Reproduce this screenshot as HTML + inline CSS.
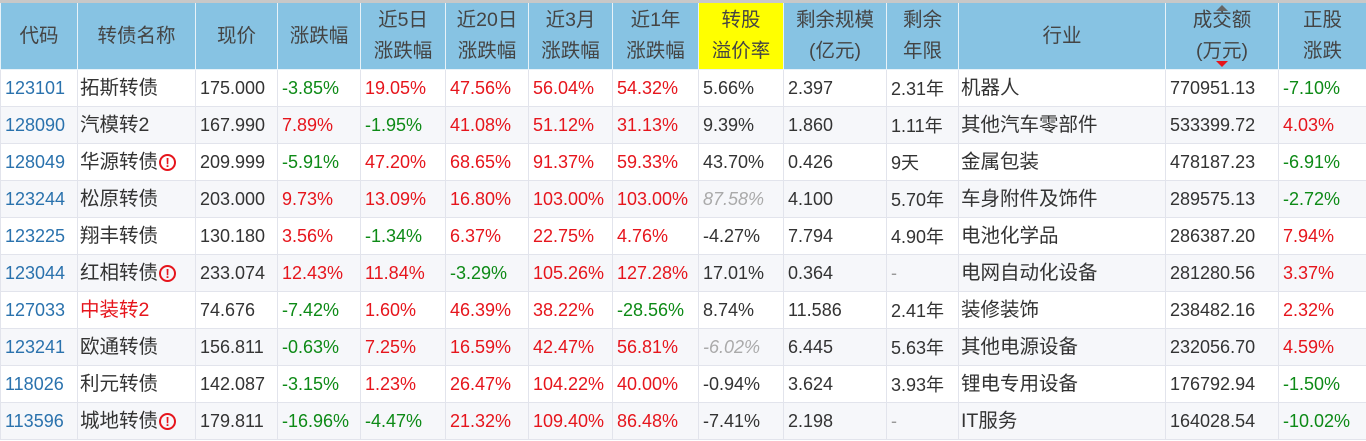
<!DOCTYPE html>
<html><head><meta charset="utf-8"><style>
html,body{margin:0;padding:0;background:#fff;width:1366px;height:441px;overflow:hidden}
body{border-top:3px solid #c8c8c8;box-sizing:border-box}
table{border-collapse:collapse;table-layout:fixed;width:1366px;font-family:"Liberation Sans","Noto Sans CJK SC",sans-serif;font-size:18px;color:#333}
th{background:#87c3e3;height:66px;padding:0;font-weight:normal;color:#444;border:1px solid #e8f2f8;border-top:none;text-align:center;line-height:31px;position:relative;font-size:19.5px}
td{height:36px;padding:0 0 0 4px;border:1px solid #e2e4ec;white-space:nowrap;overflow:hidden;vertical-align:middle}
td.n{padding-left:2px;font-size:19.5px}
td.n span.t{position:relative;top:-3px}
tr:nth-child(odd) td{background:#f6f7fa}
.c{color:#2a72ad}.r{color:#e6151c}.g{color:#0d8a16}.i{color:#aaa;font-style:italic}
.y{background:#ffff00!important}
.w{display:inline-block;width:17px;height:17px;border:2px solid #e6151c;border-radius:50%;box-sizing:border-box;color:#e6151c;font-size:13px;line-height:13px;text-align:center;font-weight:bold;vertical-align:1px;margin-left:1px}
.up{position:absolute;left:50%;top:2px;margin-left:-6px;border:6px solid transparent;border-bottom:6px solid #666;border-top:none}
.dn{position:absolute;left:50%;bottom:2px;margin-left:-6px;border:6px solid transparent;border-top:6px solid #e6151c;border-bottom:none}
</style></head><body>
<table>
<colgroup><col style="width:77px"><col style="width:118px"><col style="width:82px"><col style="width:83px"><col style="width:85px"><col style="width:83px"><col style="width:84px"><col style="width:86px"><col style="width:85px"><col style="width:103px"><col style="width:72px"><col style="width:207px"><col style="width:113px"><col style="width:88px"></colgroup>
<tr><th>代码</th><th>转债名称</th><th>现价</th><th>涨跌幅</th><th>近5日<br>涨跌幅</th><th>近20日<br>涨跌幅</th><th>近3月<br>涨跌幅</th><th>近1年<br>涨跌幅</th><th class="y">转股<br>溢价率</th><th>剩余规模<br>(亿元)</th><th>剩余<br>年限</th><th>行业</th><th><span class="up"></span>成交额<br>(万元)<span class="dn"></span></th><th>正股<br>涨跌</th></tr>
<tr><td class="c">123101</td><td class="n"><span class="t">拓斯转债</span></td><td>175.000</td><td class="g">-3.85%</td><td class="r">19.05%</td><td class="r">47.56%</td><td class="r">56.04%</td><td class="r">54.32%</td><td>5.66%</td><td>2.397</td><td>2.31年</td><td class="n"><span class="t">机器人</span></td><td>770951.13</td><td class="g">-7.10%</td></tr>
<tr><td class="c">128090</td><td class="n"><span class="t">汽模转2</span></td><td>167.990</td><td class="r">7.89%</td><td class="g">-1.95%</td><td class="r">41.08%</td><td class="r">51.12%</td><td class="r">31.13%</td><td>9.39%</td><td>1.860</td><td>1.11年</td><td class="n"><span class="t">其他汽车零部件</span></td><td>533399.72</td><td class="r">4.03%</td></tr>
<tr><td class="c">128049</td><td class="n"><span class="t">华源转债<span class="w">!</span></span></td><td>209.999</td><td class="g">-5.91%</td><td class="r">47.20%</td><td class="r">68.65%</td><td class="r">91.37%</td><td class="r">59.33%</td><td>43.70%</td><td>0.426</td><td>9天</td><td class="n"><span class="t">金属包装</span></td><td>478187.23</td><td class="g">-6.91%</td></tr>
<tr><td class="c">123244</td><td class="n"><span class="t">松原转债</span></td><td>203.000</td><td class="r">9.73%</td><td class="r">13.09%</td><td class="r">16.80%</td><td class="r">103.00%</td><td class="r">103.00%</td><td class="i">87.58%</td><td>4.100</td><td>5.70年</td><td class="n"><span class="t">车身附件及饰件</span></td><td>289575.13</td><td class="g">-2.72%</td></tr>
<tr><td class="c">123225</td><td class="n"><span class="t">翔丰转债</span></td><td>130.180</td><td class="r">3.56%</td><td class="g">-1.34%</td><td class="r">6.37%</td><td class="r">22.75%</td><td class="r">4.76%</td><td>-4.27%</td><td>7.794</td><td>4.90年</td><td class="n"><span class="t">电池化学品</span></td><td>286387.20</td><td class="r">7.94%</td></tr>
<tr><td class="c">123044</td><td class="n"><span class="t">红相转债<span class="w">!</span></span></td><td>233.074</td><td class="r">12.43%</td><td class="r">11.84%</td><td class="g">-3.29%</td><td class="r">105.26%</td><td class="r">127.28%</td><td>17.01%</td><td>0.364</td><td style="color:#999">-</td><td class="n"><span class="t">电网自动化设备</span></td><td>281280.56</td><td class="r">3.37%</td></tr>
<tr><td class="c">127033</td><td class="n r"><span class="t">中装转2</span></td><td>74.676</td><td class="g">-7.42%</td><td class="r">1.60%</td><td class="r">46.39%</td><td class="r">38.22%</td><td class="g">-28.56%</td><td>8.74%</td><td>11.586</td><td>2.41年</td><td class="n"><span class="t">装修装饰</span></td><td>238482.16</td><td class="r">2.32%</td></tr>
<tr><td class="c">123241</td><td class="n"><span class="t">欧通转债</span></td><td>156.811</td><td class="g">-0.63%</td><td class="r">7.25%</td><td class="r">16.59%</td><td class="r">42.47%</td><td class="r">56.81%</td><td class="i">-6.02%</td><td>6.445</td><td>5.63年</td><td class="n"><span class="t">其他电源设备</span></td><td>232056.70</td><td class="r">4.59%</td></tr>
<tr><td class="c">118026</td><td class="n"><span class="t">利元转债</span></td><td>142.087</td><td class="g">-3.15%</td><td class="r">1.23%</td><td class="r">26.47%</td><td class="r">104.22%</td><td class="r">40.00%</td><td>-0.94%</td><td>3.624</td><td>3.93年</td><td class="n"><span class="t">锂电专用设备</span></td><td>176792.94</td><td class="g">-1.50%</td></tr>
<tr><td class="c">113596</td><td class="n"><span class="t">城地转债<span class="w">!</span></span></td><td>179.811</td><td class="g">-16.96%</td><td class="g">-4.47%</td><td class="r">21.32%</td><td class="r">109.40%</td><td class="r">86.48%</td><td>-7.41%</td><td>2.198</td><td style="color:#999">-</td><td class="n"><span class="t">IT服务</span></td><td>164028.54</td><td class="g">-10.02%</td></tr>
</table>
</body></html>
